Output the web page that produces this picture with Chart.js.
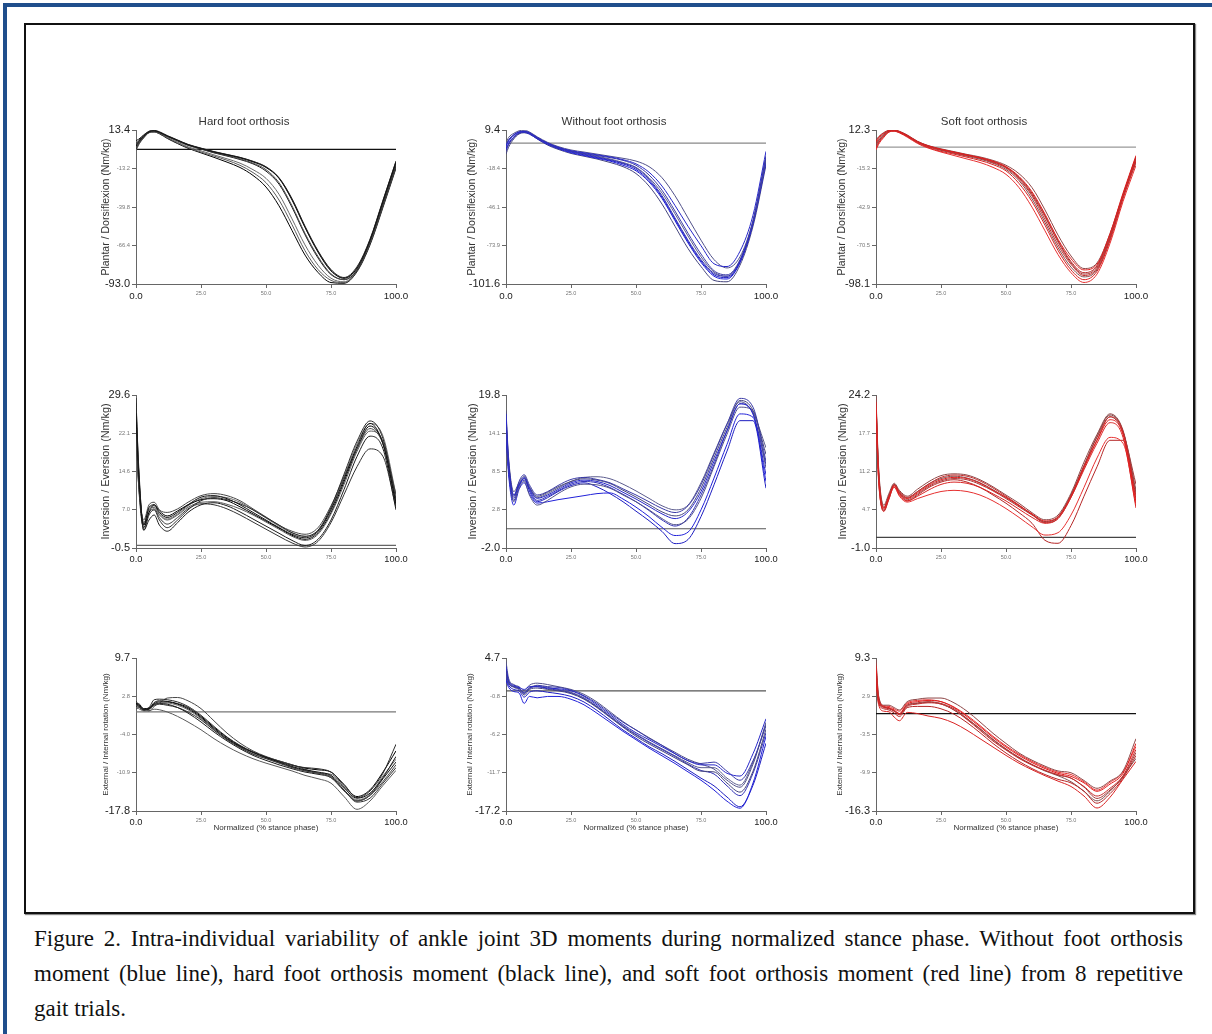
<!DOCTYPE html>
<html>
<head>
<meta charset="utf-8">
<script src="https://cdn.jsdelivr.net/npm/chart.js"></script>
<style>
  html,body{margin:0;padding:0;background:#fff;}
  body{width:1212px;height:1034px;overflow:hidden;position:relative;font-family:"Liberation Sans",Arial,sans-serif;}
  #blueBox{position:absolute;left:3px;top:3px;width:1220px;height:1100px;border:4.5px solid #1f4e8c;box-sizing:border-box;}
  #frame{position:absolute;left:24px;top:23px;width:1171px;height:891px;border:2px solid #111;box-sizing:border-box;box-shadow:1px 1px 1px #888;}
  .cap{position:absolute;left:34px;width:1149px;font-family:"Liberation Serif","Times New Roman",serif;font-size:23px;line-height:24px;
       text-align:justify;text-align-last:justify;white-space:nowrap;color:#111;}
  canvas{position:absolute;}
</style>
</head>
<body>
<div id="blueBox"></div>
<div id="frame"></div>
<div class="cap" id="cap1" style="top:927px"></div>
<div class="cap" id="cap2" style="top:962px"></div>
<div class="cap" id="cap3" style="top:997px;text-align-last:left"></div>
<script>
// ---------- DATA ----------
const stancePct = [0,1,3,5,7,9,12,16,20,25,30,35,40,45,50,55,60,65,70,75,80,85,90,95,100];

const conditionTitles = ['Hard foot orthosis','Without foot orthosis','Soft foot orthosis'];
const momentTitles = ['Plantar / Dorsiflexion (Nm/kg)','Inversion / Eversion (Nm/kg)','External / Internal rotation (Nm/kg)'];
const xAxisTitle = 'Normalized (% stance phase)';
const xTickValues = [0,25,50,75,100];

const captionLines = [
  'Figure 2. Intra-individual variability of ankle joint 3D moments during normalized stance phase. Without foot orthosis',
  'moment (blue line), hard foot orthosis moment (black line), and soft foot orthosis moment (red line) from 8 repetitive',
  'gait trials.'
];

// Plantar / Dorsiflexion moments, 8 trials each
const hardPlantarDorsi = [
  [2,5,9,12,12.8,11.8,9.2,6.2,3.2,0.6,-1.8,-3.8,-5.8,-8.6,-12.5,-20,-35,-54,-71,-84,-89,-82,-63,-36,-9],
  [4,6,10,12.6,13.2,12.2,9.6,6.5,3.5,0.9,-1.5,-3.5,-5.5,-8.2,-12,-19.5,-34,-53,-70,-83,-88.5,-81,-62,-35,-8],
  [1,4,8.5,11.8,12.4,11.4,9,6,3,0.3,-2.2,-4.3,-6.5,-9.5,-14,-23,-39,-58,-74,-86,-90,-83,-64,-37,-10],
  [6,7,10,12.2,12.6,11.6,9,5.8,2.8,0.2,-2.4,-4.6,-7,-10,-15,-24,-40,-59,-75,-86.5,-90,-83.5,-64,-38,-11],
  [-1,3,8,11.5,12,11,8,4.5,1.2,-1.8,-4.6,-7.5,-11,-16,-23,-35,-52,-70,-83,-90.5,-92,-84,-65,-39,-12],
  [0,3.5,8.2,11.6,12.1,10.8,7.6,4,0.8,-2.4,-5.5,-8.8,-12.5,-18,-26,-39,-56,-73,-85,-92,-92.5,-84.5,-66,-40,-13],
  [3,5.5,9.3,12.3,12.9,11.9,9.3,6.3,3.3,0.7,-1.7,-3.6,-5.6,-8.4,-12.2,-19.8,-34.5,-53.5,-70.5,-83.5,-89,-82,-62.5,-35.5,-8.5],
  [1,4,8.6,11.8,12.2,11,8.2,5,1.8,-1,-3.8,-6.5,-9.5,-14,-20,-31,-48,-66,-80,-89,-91.5,-83.5,-64.5,-38,-11]
];
const withoutPlantarDorsi = [
  [-2,2,6,8,8.5,7.5,4,0,-3,-5.5,-7,-8.5,-10,-12,-15,-21,-31,-45,-60,-74,-87,-89,-78,-52,-6],
  [-6,-1,4,7,8,7,3.5,-0.5,-3.5,-6,-7.5,-9,-10.5,-12.5,-16,-23,-34,-49,-65,-80,-92,-95,-84,-56,-10],
  [0,4,7,8.8,9.2,8,4.5,0.5,-2.5,-5,-6.5,-8,-9.5,-11,-13,-17,-25,-38,-54,-70,-84,-90,-82,-56,-12],
  [-4,0,4.5,7.2,7.6,6.5,3,-1,-4,-7,-9,-11,-13,-16,-20,-28,-40,-56,-72,-86,-96,-98,-86,-58,-14],
  [-8,-3,3,6.5,7.4,6.5,3,-1.5,-4.5,-7.5,-9.5,-11.5,-14,-17,-22,-31,-44,-60,-76,-89,-99,-100,-88,-60,-16],
  [-2,1.5,5.5,7.8,8.2,7.2,3.8,-0.2,-3.2,-6,-8,-10,-12,-14.5,-18,-26,-38,-54,-70,-84,-94,-96,-85,-57,-11],
  [-5,-1,4,7,7.8,6.8,3.2,-0.8,-3.8,-6.5,-8.5,-10.5,-12.5,-15,-19,-27,-39,-55,-71,-85,-95,-97,-86,-58,-13],
  [-1,2.5,6,8,8.4,7.4,4,0,-3,-5.8,-7.6,-9.5,-11.5,-14,-17.5,-25,-36,-51,-67,-82,-93,-96,-85,-57,-9]
];
const softPlantarDorsi = [
  [4,7,10,12,12.3,11.2,8.5,4,1,-1.5,-3.5,-5.5,-7.5,-10,-14,-21,-32,-48,-66,-80,-88,-84,-62,-33,-6],
  [0,3.5,8,11.2,11.8,10.8,8,3.5,0.5,-2,-4,-6,-8,-11,-15,-23,-35,-52,-70,-84,-92,-87,-65,-35,-8],
  [5,7.5,10.5,12.2,12.5,11.4,8.8,4.2,1.2,-1.2,-3.2,-5.2,-7,-9.5,-13,-19,-29,-45,-63,-78,-87,-83,-62,-34,-7],
  [-1,3,7.5,11,11.5,10.5,7.6,3,-0.2,-3,-5,-7.2,-9.5,-12.5,-17,-26,-39,-56,-74,-88,-95,-89,-67,-37,-10],
  [2,5,9,11.6,12,11,8.2,3.8,0.8,-1.8,-3.8,-5.8,-7.8,-10.5,-14.5,-22,-34,-50,-68,-83,-91,-86,-64,-35,-9],
  [-2,2,7,10.8,11.4,10.2,7.2,2.6,-0.6,-3.5,-6,-8.5,-11,-14.5,-19.5,-29,-43,-60,-77,-90,-97,-91,-69,-39,-13],
  [3,6,9.5,11.8,12.1,11,8.3,3.9,0.9,-1.6,-3.6,-5.6,-7.6,-10.2,-14.2,-21.5,-33,-49,-67,-82,-90,-85,-63,-34,-7],
  [1,4.5,8.5,11.4,11.9,10.9,8,3.6,0.4,-2.3,-4.4,-6.5,-8.6,-11.5,-16,-24,-37,-54,-72,-86,-93,-88,-66,-36,-11]
];

// Inversion / Eversion moments
const hardInvEv = [
  [26,14,4,7.5,8,6.5,5.5,6.5,8,9.5,9.8,9.2,8,6.5,5,3.5,2.2,1.5,2.8,7,13,19.5,24,20,8],
  [28,16,3,6,7,5,3.5,5,7,8.8,9.4,9,8.2,7,5.5,4,2.5,1.8,3,7.5,14,20.5,24.5,21,9],
  [22,12,5,8,8.5,7,6.5,7.2,8.5,9.8,10.2,9.8,8.8,7.2,5.6,4,2.8,2.2,3.5,7.8,13.5,19,23,20,10],
  [29,15,3,5,6,4,2.8,4.5,6.5,8,8.4,7.8,6.6,5.2,3.8,2.4,1,0,1.2,5,11,17.5,21.5,19,7],
  [25,13,4.5,7,7.5,6,5,6,7.5,8.5,8.6,8.1,7.2,6,4.6,3.2,1.8,1,2.2,6.2,12,18.5,22.5,20.5,9],
  [24,12,3.5,6.5,8,6.8,5.8,6.8,8,9,9.2,8.8,7.6,6.2,4.8,3.4,2,1.2,2.5,6.5,12.5,19,23.5,20,8.5],
  [27,15,4,6.5,7.2,5.5,4.2,5.5,7.2,8.2,8,7.2,6,4.6,3.2,1.8,0.5,-0.3,0.8,4.5,10,15.5,19,17.5,7.5],
  [23,13,4.2,7.2,7.8,6.2,5.2,6.2,7.8,9.2,9.6,9.4,8.5,7,5.4,3.8,2.5,1.8,3,7.2,13.5,20,24,21.5,10]
];
const withoutInvEv = [
  [17,10,5,6.5,7.5,6,4.5,5,5.8,6.8,7.2,7,6.4,5.4,4.4,3.3,2.2,1.5,2.5,5.5,10,14.5,18.5,17,8],
  [15,9,4.5,7,8,6.5,5,5.5,6.4,7.3,7.6,7.3,6.8,5.9,5,4,3,2.4,3.4,6.5,11,15.5,19.3,18,10],
  [16,9.5,4,6,7,5,3.5,4.2,5.2,6.2,6.6,6.5,6,5,4,2.8,1.5,0.6,1.4,4.5,9.2,14,18,17.5,9],
  [14,8,3.5,5.8,6.8,5.2,3.8,4,4.3,4.6,4.9,5.2,5.3,4.4,3.2,1.8,0.2,-1,-0.5,2.8,7.5,12.5,17,16.5,7],
  [17.5,10.5,5.5,6.8,7.8,6.2,4.8,5.4,6.2,7,7.4,7.2,6.7,5.7,4.7,3.6,2.5,1.9,2.8,6,10.5,15,19,17.5,11],
  [16,9,4.8,6.4,7.2,5.8,4.2,4.8,5.6,6.6,7,6.8,6.1,5.1,4,2.7,1.3,0.4,1.6,5,9.5,14.5,18.5,17,9.5],
  [15,8.5,4.2,6.2,7.6,5.6,4,4.6,5.5,6.4,6.8,6.2,5.2,4,2.6,1.2,-0.4,-2.2,-1.6,1.8,6.5,11.5,16,16,6],
  [16.5,10,5,6.6,7.4,6.1,4.6,5.2,6,7,7.6,7.7,7.4,6.6,5.6,4.5,3.4,2.8,3.5,6.8,11.2,15.5,18.8,17.2,12]
];
const softInvEv = [
  [23,11,5,7,8.8,7.5,6.6,7.6,8.8,9.8,10.2,10,9.2,8,6.8,5.4,4,2.8,3.5,7,12,16.5,20,17.5,6],
  [22,10,4.5,6.5,9,7.8,6.8,7.8,9,10.2,10.6,10.4,9.6,8.4,7,5.5,3.9,2.5,3.2,6.8,11.8,16.5,20.5,18,7],
  [24,12,5.5,7.5,9.2,8,7,8.2,9.4,10.5,10.8,10.6,9.8,8.6,7.2,5.8,4.2,3,3.8,7.5,12.8,17.5,21,18.2,8],
  [21,10,4.4,6.8,8.5,7.2,6.2,7,8,9,9.4,9.2,8.5,7.4,6.2,4.8,3.4,2.4,3.2,6.8,11.5,16,19.5,17,5],
  [23.5,11.5,5.2,7.2,9,7.6,6.4,7.4,8.6,9.6,10,9.8,9,7.9,6.6,5.2,3.8,2.6,3.4,7.2,12.2,17,20.5,17.8,9],
  [20,9.5,4.8,6.6,8.6,7,6,6.6,7.2,7.8,8,7.8,7.2,6.2,4.9,3.4,1.8,0.4,0.8,3.8,8.5,13.5,17,16,5.5],
  [22.5,11,5,7,8.8,7.4,6.2,7.2,8.4,9.4,9.8,9.4,8.5,7.2,5.8,4.2,2.4,-0.5,-1,2,7,12,16.5,16.5,6.5],
  [23,11,4.6,7,9,7.7,6.7,7.8,9,10,10.4,10.1,9.3,8.1,6.8,5.4,3.9,2.7,3.5,7.2,12.2,17.2,20.8,18,7.5]
];

// External / Internal rotation moments
const hardRotation = [
  [1.2,1.5,0.5,0.6,1.5,1.8,1.8,1.4,0.6,-1,-3,-4.8,-6.2,-7.3,-8.2,-9,-9.8,-10.4,-10.8,-11.4,-13.6,-15.5,-14.6,-11.8,-8],
  [2,1.2,0.3,0.8,2.2,2.3,2.2,1.8,1,-0.6,-2.6,-4.5,-6,-7.2,-8.1,-8.9,-9.6,-10,-10.2,-10.8,-13,-15.4,-14.2,-11,-5.8],
  [0.5,0.8,0.6,0.2,1,1.6,2.5,2.6,2,0.6,-1.6,-3.8,-5.6,-7,-8,-8.8,-9.5,-10.3,-11,-11.8,-14.2,-16,-15,-12.5,-9.5],
  [1.5,1,0.4,0.5,1.4,1.5,1.4,0.8,-0.2,-1.8,-3.6,-5.2,-6.6,-7.8,-8.7,-9.5,-10.2,-10.8,-11.2,-11.8,-14,-16,-15,-12,-9],
  [0.8,0.6,0.2,0.2,0.5,0.4,0,-0.8,-1.8,-3.2,-4.8,-6.2,-7.4,-8.4,-9.2,-9.9,-10.6,-11.4,-12,-12.8,-15.2,-17.5,-16,-13.2,-10.5],
  [1.6,1.3,0.6,0.7,1.7,2,1.9,1.5,0.8,-0.8,-2.8,-4.6,-6.1,-7.2,-8.1,-8.8,-9.5,-10.1,-10.4,-10.8,-13.2,-15.2,-14,-10.8,-7],
  [1,0.9,0.4,0.5,1.2,1.4,1.2,0.8,0,-1.4,-3.3,-5,-6.4,-7.6,-8.4,-9.2,-10,-10.6,-11,-11.6,-14,-16.2,-15.5,-12.8,-10],
  [1.4,1.1,0.5,0.6,1.3,1.6,1.6,1.2,0.4,-1.2,-3.2,-4.9,-6.3,-7.5,-8.3,-9.1,-9.9,-10.5,-11,-11.2,-13.5,-15.8,-14.8,-11.5,-8.5]
];
const withoutRotation = [
  [3.5,1.5,0.8,0.5,0.2,0.6,0.6,0.4,0.3,0,-0.8,-2,-3.4,-4.8,-6,-7,-8,-9,-10,-10.6,-10.6,-11.8,-12.2,-9,-4],
  [2,1,0.6,0.3,-0.2,0.3,0.8,0.6,0.5,0.1,-0.7,-1.8,-3.2,-4.5,-5.6,-6.8,-7.8,-9,-10,-10.4,-10.2,-11.5,-12.8,-10,-5],
  [4.2,1.8,0.9,0.6,0,0.8,1.1,0.9,0.6,0.2,-0.5,-1.6,-3,-4.4,-5.6,-6.7,-7.8,-8.8,-9.8,-10.5,-11.2,-12.8,-13.8,-10.5,-4.5],
  [1.5,0.5,-0.1,-0.3,-1.8,-0.8,-1,-0.8,-0.8,-1.2,-2,-3.2,-4.5,-5.8,-7,-8.2,-9.3,-10.4,-11.6,-12.8,-14.2,-15.8,-16.8,-13.2,-6.5],
  [3,1.2,0.5,0.2,-0.6,0.2,0.4,0.2,0,-0.4,-1.2,-2.4,-3.8,-5.2,-6.5,-7.6,-8.6,-9.6,-10.6,-11.5,-11.6,-13.2,-14.5,-11.5,-5.5],
  [2.5,1.2,0.6,0.4,-0.4,0.4,0.6,0.3,0.1,-0.3,-1.1,-2.3,-3.7,-5.1,-6.3,-7.4,-8.4,-9.4,-10.5,-11.4,-11.9,-13.6,-15,-11.8,-6],
  [1.8,0.8,0.2,0,-0.9,-0.2,0,-0.2,-0.4,-0.8,-1.6,-2.8,-4.2,-5.6,-6.8,-8,-9,-10.1,-11.3,-12.5,-13.6,-15.2,-16.6,-13.5,-7.5],
  [3.2,1.4,0.7,0.4,-0.3,0.5,0.7,0.5,0.2,-0.2,-1,-2.2,-3.6,-5,-6.2,-7.3,-8.3,-9.3,-10.3,-11,-11,-12.5,-13.5,-10.2,-4.8]
];
const softRotation = [
  [8,2.5,1.2,1,0.6,0,1.6,2,2.2,2,1,-0.5,-2.2,-4,-5.6,-7,-8.2,-9.2,-10,-10.5,-11.6,-13,-11.8,-10,-5],
  [6,2,1,0.8,0.4,-0.2,1.2,1.6,1.8,1.6,0.6,-1,-2.8,-4.6,-6.1,-7.5,-8.6,-9.5,-10.2,-10.8,-12.2,-13.8,-12.5,-10.4,-6],
  [9,3,1.4,1.4,1,0.6,2,2.4,2.6,2.6,1.8,0.4,-1.4,-3.3,-5,-6.6,-7.8,-8.8,-9.6,-9.9,-11.2,-12.5,-11.3,-9.6,-4.2],
  [5,1.5,0.4,0.3,-0.6,-1.2,0.2,0,-0.4,-0.8,-1.6,-2.8,-4.2,-5.6,-7,-8.3,-9.4,-10.4,-11.3,-12.2,-13.8,-15.8,-14,-11,-8],
  [7,2.2,1.1,0.9,0.5,0,1.4,1.8,2,1.7,0.8,-0.8,-2.5,-4.3,-5.9,-7.3,-8.5,-9.5,-10.3,-10.8,-12.3,-14.2,-12.8,-10.6,-6.5],
  [8.5,2.8,1.3,1.2,0.8,0.4,1.8,2.2,2.3,2,1.1,-0.3,-2,-3.8,-5.4,-6.8,-8,-9,-9.8,-10.2,-11.4,-12.8,-11.5,-9.8,-5.5],
  [6.5,1.8,0.8,0.6,0.1,-0.5,1,1.2,1.2,0.8,-0.1,-1.5,-3.2,-5,-6.6,-8,-9.2,-10.2,-11,-11.6,-13,-15,-13.4,-10.8,-7],
  [7.5,2.4,1.1,0.9,0.4,-0.1,1.4,1.7,1.9,1.6,0.6,-0.9,-2.6,-4.4,-6,-7.4,-8.6,-9.6,-10.4,-11.4,-13,-14.6,-13,-10.5,-7.5]
];

// y tick labels as printed (bottom to top)
const hardPDTicks    = ['-93.0','-66.4','-39.8','-13.2','13.4'];
const withoutPDTicks = ['-101.6','-73.9','-46.1','-18.4','9.4'];
const softPDTicks    = ['-98.1','-70.5','-42.9','-15.3','12.3'];
const hardIETicks    = ['-0.5','7.0','14.6','22.1','29.6'];
const withoutIETicks = ['-2.0','2.8','8.5','14.1','19.8'];
const softIETicks    = ['-1.0','4.7','11.2','17.7','24.2'];
const hardRotTicks   = ['-17.8','-10.9','-4.0','2.8','9.7'];
const withoutRotTicks= ['-17.2','-11.7','-6.2','-0.8','4.7'];
const softRotTicks   = ['-16.3','-9.9','-3.5','2.9','9.3'];

// y axis extents [min, max]
const hardPDRange    = [-93.0, 13.4];
const withoutPDRange = [-101.6, 9.4];
const softPDRange    = [-98.1, 12.3];
const hardIERange    = [-0.5, 29.6];
const withoutIERange = [-2.85, 19.8];
const softIERange    = [-1.8, 24.2];
const hardRotRange   = [-17.8, 9.7];
const withoutRotRange= [-17.2, 4.7];
const softRotRange   = [-16.3, 9.3];

// ---------- STYLE / LAYOUT ----------
const blackShades = ['#111111','#2a2a2a','#474747','#1c1c1c','#5a5a5a','#000000','#333333','#6a6a6a'];
const blueShades  = ['#2727c9','#3a3aa6','#50508a','#2020d8','#45457c','#3131b5','#1d1dc0','#5c5c8e'];
const redShades   = ['#e01c1c','#c42a2a','#8e4646','#d92222','#a33a3a','#e63030','#b52626','#7c4e4e'];

const colAxisX = [136, 506, 876];
const rowAreaTop = [130, 395, 658];
const rowAreaH = [154, 153, 153];
const yTitleSize = [10.5, 10.8, 8];
const yTitleGap = [[30,34,34],[30,33,33],[30,36,36]];

Chart.defaults.font.family = '"Liberation Sans", Arial, sans-serif';

const panels = [
  {row:0,col:0,trials:hardPlantarDorsi,labels:hardPDTicks,range:hardPDRange,palette:blackShades,zero:'#111'},
  {row:0,col:1,trials:withoutPlantarDorsi,labels:withoutPDTicks,range:withoutPDRange,palette:blueShades,zero:'#888'},
  {row:0,col:2,trials:softPlantarDorsi,labels:softPDTicks,range:softPDRange,palette:redShades,zero:'#999'},
  {row:1,col:0,trials:hardInvEv,labels:hardIETicks,range:hardIERange,palette:blackShades,zero:'#666'},
  {row:1,col:1,trials:withoutInvEv,labels:withoutIETicks,range:withoutIERange,palette:blueShades,zero:'#555'},
  {row:1,col:2,trials:softInvEv,labels:softIETicks,range:softIERange,palette:redShades,zero:'#444'},
  {row:2,col:0,trials:hardRotation,labels:hardRotTicks,range:hardRotRange,palette:blackShades,zero:'#777'},
  {row:2,col:1,trials:withoutRotation,labels:withoutRotTicks,range:withoutRotRange,palette:blueShades,zero:'#555'},
  {row:2,col:2,trials:softRotation,labels:softRotTicks,range:softRotRange,palette:redShades,zero:'#111'}
];

function isEnd(c){ return c.index === 0 || c.index === 4; }

function makePanel(p){
  const LEFTW = 44, TOPH = 30, RIGHTW = 22;
  const BOTTOMH = p.row === 2 ? 30 : 28;
  const areaTop = rowAreaTop[p.row], areaH = rowAreaH[p.row], axisX = colAxisX[p.col];
  const W = LEFTW + 260 + RIGHTW, H = TOPH + areaH + BOTTOMH;
  const cv = document.createElement('canvas');
  cv.width = W; cv.height = H;
  cv.style.left = (axisX - LEFTW) + 'px';
  cv.style.top = (areaTop - TOPH) + 'px';
  cv.style.width = W + 'px'; cv.style.height = H + 'px';
  document.body.appendChild(cv);

  const datasets = p.trials.map((t, i) => ({
    data: t.map((v, k) => ({x: stancePct[k], y: v})),
    borderColor: p.palette[i], borderWidth: 1, pointRadius: 0,
    cubicInterpolationMode: 'monotone', fill: false
  }));
  datasets.push({data: [{x:0,y:0},{x:100,y:0}], borderColor: p.zero, borderWidth: 1.2, pointRadius: 0, fill: false});

  const [ymin, ymax] = p.range;
  const ystep = (ymax - ymin) / 4;
  const ySize = yTitleSize[p.row];
  const yPad = Math.max(0, LEFTW - yTitleGap[p.row][p.col] - ySize * 0.6);
  const bigX = p.row === 0 ? 9.8 : 9.3;

  new Chart(cv, {
    type: 'line',
    data: {datasets},
    options: {
      responsive: false, animation: false, events: [],
      layout: {padding: {top: p.row === 0 ? 0 : TOPH, right: RIGHTW, left: 0, bottom: 0}},
      plugins: {
        legend: {display: false}, tooltip: {enabled: false},
        title: {display: p.row === 0, text: conditionTitles[p.col], color: '#333',
                font: {size: 11.5, weight: 'normal'}, padding: {top: 15.1, bottom: 1.1}}
      },
      scales: {
        x: {
          type: 'linear', min: 0, max: 100,
          afterBuildTicks: s => { s.ticks = xTickValues.map(v => ({value: v})); },
          afterFit: s => { s.height = BOTTOMH; },
          grid: {display: true, drawOnChartArea: false, drawTicks: true, tickLength: 4, color: '#666'},
          border: {display: true, color: '#666', width: 1},
          ticks: {padding: 2, maxRotation: 0, autoSkip: false,
                  callback: v => Number(v).toFixed(1),
                  color: c => isEnd(c) ? '#222' : '#777',
                  font: c => isEnd(c) ? {size: bigX} : {size: 5.5}},
          title: {display: p.row === 2, text: xAxisTitle, color: '#333', font: {size: 8}, padding: {top: 0, bottom: 8.5}}
        },
        y: {
          type: 'linear', min: ymin, max: ymax,
          afterBuildTicks: s => { s.ticks = [0,1,2,3,4].map(i => ({value: ymin + ystep * i})); },
          afterFit: s => { s.width = LEFTW; },
          grid: {display: true, drawOnChartArea: false, drawTicks: true, tickLength: 4, color: '#666'},
          border: {display: true, color: '#666', width: 1},
          ticks: {padding: 2, autoSkip: false,
                  callback: (v, i) => p.labels[i],
                  color: c => isEnd(c) ? '#222' : '#777',
                  font: c => isEnd(c) ? {size: 11} : {size: 5.8}},
          title: {display: true, text: momentTitles[p.row], color: '#333', font: {size: ySize}, padding: {top: yPad, bottom: 0}}
        }
      }
    }
  });
}

panels.forEach(makePanel);

document.getElementById('cap1').textContent = captionLines[0];
document.getElementById('cap2').textContent = captionLines[1];
document.getElementById('cap3').textContent = captionLines[2];
</script>
</body>
</html>
